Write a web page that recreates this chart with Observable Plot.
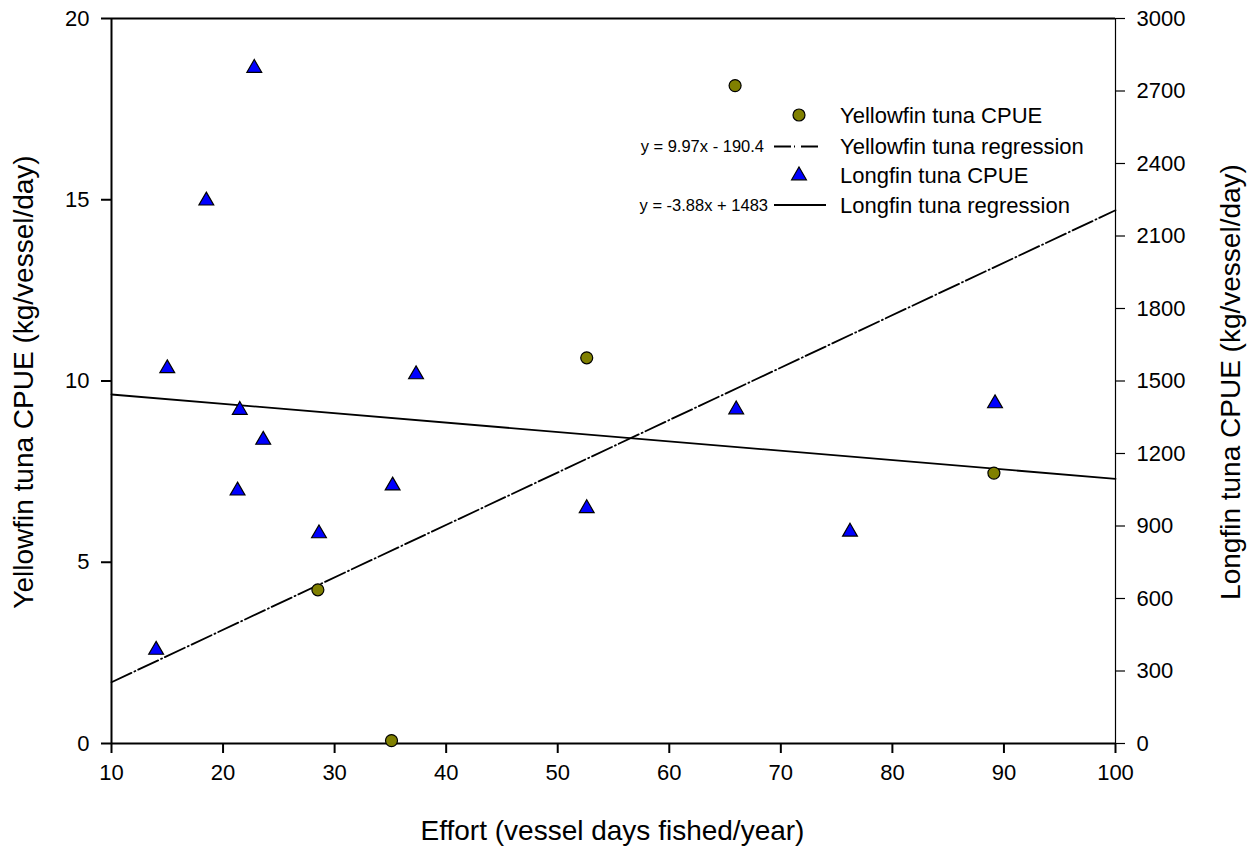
<!DOCTYPE html>
<html><head><meta charset="utf-8">
<script src="https://cdn.jsdelivr.net/npm/d3@7"></script>
<script src="https://cdn.jsdelivr.net/npm/@observablehq/plot@0.6"></script>
<style>
html,body{margin:0;padding:0;background:#fff;}
#chart svg{display:block;}
</style></head><body><div id="chart"></div>
<script>
// ---- data ----
const yellowfinEffort = [28.5, 35.1, 52.6, 65.9, 89.1];
const yellowfinCPUE   = [4.24, 0.08, 10.64, 18.15, 7.46];          // left axis, kg/vessel/day
const longfinEffort   = [14.0, 15.0, 18.5, 21.3, 21.5, 22.8, 23.6, 28.6, 35.2, 37.3, 52.6, 66.0, 76.2, 89.2];
const longfinCPUE     = [387, 1552, 2246, 1046, 1380, 2795, 1256, 869, 1067, 1527, 973, 1382, 876, 1407]; // right axis
const regEffort       = [10, 100];
const yellowfinRegLine = [1.69, 14.71];   // as drawn, left-axis units
const longfinRegLine   = [1444.2, 1095];  // y = -3.88x + 1483, right-axis units
const xDomain = [10, 100];
const leftDomain = [0, 20];
const rightDomain = [0, 3000];
const xTicks = [10, 20, 30, 40, 50, 60, 70, 80, 90, 100];
const leftTicks = [0, 5, 10, 15, 20];
const rightTicks = [0, 300, 600, 900, 1200, 1500, 1800, 2100, 2400, 2700, 3000];
const seriesNames = ["Yellowfin tuna CPUE", "Yellowfin tuna regression", "Longfin tuna CPUE", "Longfin tuna regression"];
const equations = ["y = 9.97x - 190.4", "y = -3.88x + 1483"];
const xTitle = "Effort (vessel days fished/year)";
const yLeftTitle = "Yellowfin tuna CPUE (kg/vessel/day)";
const yRightTitle = "Longfin tuna CPUE (kg/vessel/day)";

// ---- build ----
const ratio = rightDomain[1] / leftDomain[1];
const toLeft = v => v / ratio;
const yf = yellowfinEffort.map((x, i) => ({x, y: yellowfinCPUE[i]}));
const lf = longfinEffort.map((x, i) => ({x, y: toLeft(longfinCPUE[i])}));
const yfReg = regEffort.map((x, i) => ({x, y: yellowfinRegLine[i]}));
const lfReg = regEffort.map((x, i) => ({x, y: toLeft(longfinRegLine[i])}));

const FONT = "'Liberation Sans', Arial, Helvetica, sans-serif";
const OLIVE = "#808000", BLUE = "#0000ff";
const DASH = "22,3.3,1,3.2";
const triR = 5.5, circR = 6;
const TICK = 10;

const plot = Plot.plot({
  width: 1255, height: 849,
  marginLeft: 111, marginRight: 140, marginTop: 18, marginBottom: 106,
  style: {fontFamily: FONT, fontSize: "22px", background: "#fff", color: "#000", overflow: "visible"},
  x: {domain: xDomain, axis: null},
  y: {domain: leftDomain, axis: null},
  marks: [
    // tick marks (outward)
    Plot.ruleX(xTicks, {x: d => d, y1: leftDomain[0], y2: leftDomain[0], insetBottom: -TICK, stroke: "#000", strokeWidth: 2}),
    Plot.ruleY(leftTicks, {y: d => d, x1: xDomain[0], x2: xDomain[0], insetRight: TICK, stroke: "#000", strokeWidth: 2}),
    Plot.ruleY(rightTicks.map(toLeft), {y: d => d, x1: xDomain[1], x2: xDomain[1], insetRight: -TICK, stroke: "#000", strokeWidth: 1.2}),
    // tick labels
    Plot.text(xTicks, {x: d => d, text: d => String(d), frameAnchor: "bottom", dy: 36, fontSize: 22}),
    Plot.text(leftTicks, {y: d => d, text: d => String(d), frameAnchor: "left", dx: -22, textAnchor: "end", fontSize: 22}),
    Plot.text(rightTicks, {y: d => toLeft(d), text: d => String(d), frameAnchor: "right", dx: 21, textAnchor: "start", fontSize: 22}),
    // frame
    Plot.ruleX([xDomain[0]], {stroke: "#000", strokeWidth: 2}),
    Plot.ruleX([xDomain[1]], {stroke: "#000", strokeWidth: 1.2}),
    Plot.ruleY([leftDomain[0]], {stroke: "#000", strokeWidth: 2}),
    Plot.ruleY([leftDomain[1]], {stroke: "#000", strokeWidth: 2}),
    // data
    Plot.line(yfReg, {x: "x", y: "y", stroke: "#000", strokeWidth: 1.8, strokeDasharray: DASH}),
    Plot.line(lfReg, {x: "x", y: "y", stroke: "#000", strokeWidth: 1.8}),
    Plot.dot(lf, {x: "x", y: "y", symbol: "triangle", r: triR, fill: BLUE, stroke: "#000", strokeWidth: 1.2}),
    Plot.dot(yf, {x: "x", y: "y", r: circR, fill: OLIVE, stroke: "#000", strokeWidth: 1.2})
  ]
});
document.getElementById("chart").appendChild(plot);

// ---- titles and legend (layout) ----
const svg = d3.select(plot);
const g = svg.append("g").attr("font-family", FONT).attr("fill", "#000");
g.append("text").attr("x", 612.5).attr("y", 840).attr("text-anchor", "middle").attr("font-size", 28).text(xTitle);
g.append("text").attr("transform", "translate(33,382) rotate(-90)").attr("text-anchor", "middle").attr("font-size", 28).text(yLeftTitle);
g.append("text").attr("transform", "translate(1240,382) rotate(-90)").attr("text-anchor", "middle").attr("font-size", 28).text(yRightTitle);

const lg = g.append("g");
const rows = [115, 146.5, 175.5, 205];
const symX = 799, textX = 840;
lg.append("circle").attr("cx", symX).attr("cy", rows[0]).attr("r", circR).attr("fill", OLIVE).attr("stroke", "#000").attr("stroke-width", 1.2);
lg.append("line").attr("x1", 774).attr("x2", 821).attr("y1", rows[1]).attr("y2", rows[1]).attr("stroke", "#000").attr("stroke-width", 1.8).attr("stroke-dasharray", "17,3,1,6");
lg.append("path").attr("transform", `translate(${symX},${rows[2]})`).attr("d", d3.symbol(d3.symbolTriangle, Math.PI * triR * triR)()).attr("fill", BLUE).attr("stroke", "#000").attr("stroke-width", 1.2);
lg.append("line").attr("x1", 774).attr("x2", 826).attr("y1", rows[3]).attr("y2", rows[3]).attr("stroke", "#000").attr("stroke-width", 1.8);
seriesNames.forEach((s, i) => {
  lg.append("text").attr("x", textX).attr("y", rows[i]).attr("dy", "0.36em").attr("text-anchor", "start").attr("font-size", 22).text(s);
});
lg.append("text").attr("x", 764).attr("y", rows[1]).attr("dy", "0.36em").attr("text-anchor", "end").attr("font-size", 16.5).text(equations[0]);
lg.append("text").attr("x", 768).attr("y", rows[3]).attr("dy", "0.36em").attr("text-anchor", "end").attr("font-size", 16.5).text(equations[1]);
</script>
</body></html>
